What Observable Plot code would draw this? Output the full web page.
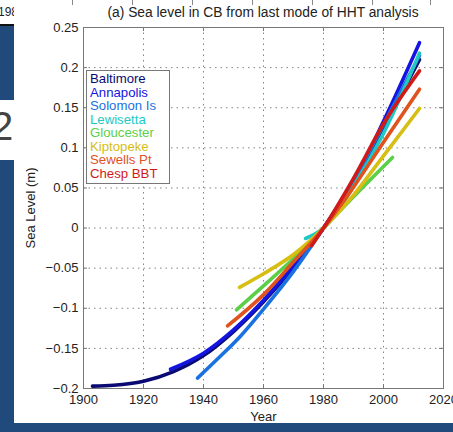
<!DOCTYPE html>
<html>
<head>
<meta charset="utf-8">
<script src="https://cdn.jsdelivr.net/npm/d3@7"></script>
<script src="https://cdn.jsdelivr.net/npm/@observablehq/plot@0.6"></script>
<style>
  html, body { margin: 0; padding: 0; width: 453px; height: 432px; overflow: hidden; background: #1f4a7b; }
  #page { position: relative; width: 453px; height: 432px; font-family: "Liberation Sans", Arial, sans-serif; }
  #panel { position: absolute; left: 14px; top: 0; width: 439px; height: 423px; background: #fff; }
  #chart { position: absolute; left: 0; top: 0; }
  #title { position: absolute; left: 63px; width: 400px; top: 5px; text-align: center; font-size: 13.8px; color: #222; white-space: nowrap; }
  #legend { position: absolute; left: 86px; top: 70px; width: 84px; height: 114px; border: 1px solid #777; background: #fff; padding: 1px 0 0 3px; box-sizing: border-box; }
  #legend div { font-size: 13.2px; line-height: 13.5px; height: 13.5px; white-space: nowrap; }
  #tab { position: absolute; left: 0; top: 0; width: 14px; height: 24px; background: #fff; border-bottom: 2px solid #111; overflow: hidden; }
  #tab span { position: absolute; left: -2px; top: 5px; font-size: 12px; color: #222; }
  #slide { position: absolute; left: 0; top: 100px; width: 14px; height: 60px; background: #fff; overflow: hidden; }
  #slide span { position: absolute; left: -9px; top: 4px; font-size: 40px; color: #444; }
  .topTick { position: absolute; top: 0; width: 1px; height: 5px; background: #888; }
</style>
</head>
<body>
<div id="page">
  <div id="panel"></div>
  <div id="tab"><span>198</span></div>
  <div id="slide"><span>2</span></div>
  <div id="chart"></div>
  <div id="title">(a) Sea level in CB from last mode of HHT analysis</div>
  <div id="legend"></div>
</div>
<script>
// Stations, in plotting order, and their line colours
const stations = ["Baltimore", "Annapolis", "Solomon Is", "Lewisetta", "Gloucester", "Kiptopeke", "Sewells Pt", "Chesp BBT"];
const colors = ["#0a0a72", "#1414e0", "#1a72e0", "#22c8c4", "#5ccf48", "#d6be12", "#e0521e", "#d01a1a"];

// Last HHT mode (trend) of sea level at each station: [year, metres]
const baltimore  = [[1903,-0.197],[1910,-0.196],[1920,-0.191],[1930,-0.179],[1940,-0.159],[1950,-0.129],[1960,-0.092],[1970,-0.049],[1980,0.0],[1990,0.055],[2000,0.125],[2012,0.210]];
const annapolis  = [[1929,-0.176],[1940,-0.156],[1950,-0.127],[1960,-0.090],[1970,-0.047],[1980,0.0],[1990,0.058],[2000,0.133],[2012,0.231]];
const solomonIs  = [[1938,-0.187],[1945,-0.162],[1952,-0.136],[1960,-0.101],[1970,-0.054],[1980,0.0],[1990,0.058],[2000,0.129],[2012,0.215]];
const lewisetta  = [[1974,-0.013],[1980,0.0],[1990,0.052],[2000,0.118],[2012,0.218]];
const gloucester = [[1951,-0.102],[1960,-0.072],[1970,-0.038],[1980,0.0],[1990,0.039],[2003,0.088]];
const kiptopeke  = [[1952,-0.074],[1960,-0.057],[1970,-0.033],[1980,0.0],[1990,0.041],[2000,0.090],[2012,0.149]];
const sewellsPt  = [[1948,-0.122],[1960,-0.083],[1970,-0.042],[1980,0.0],[1990,0.051],[2000,0.107],[2012,0.173]];
const chespBBT   = [[1976,-0.022],[1980,0.0],[1990,0.062],[2000,0.130],[2012,0.196]];

const xTicks = [1900, 1920, 1940, 1960, 1980, 2000, 2020];
const yTicks = [-0.2, -0.15, -0.1, -0.05, 0, 0.05, 0.1, 0.15, 0.2, 0.25];

const series = [baltimore, annapolis, solomonIs, lewisetta, gloucester, kiptopeke, sewellsPt, chespBBT];
const rows = series.flatMap((pts, i) => pts.map(([year, value]) => ({station: stations[i], year, value})));

const W = 453, H = 423, mt = 27, mb = 35, ml = 83, mr = 10;
const innerW = W - ml - mr, innerH = H - mt - mb;
const fmtY = d => String(+d.toFixed(2)).replace("-", "\u2212");
const gridStyle = {stroke: "#777", strokeOpacity: 0.9, strokeDasharray: "1.5,4"};
const tickStyle = {stroke: "#777", strokeWidth: 1};

const chart = Plot.plot({
  width: W, height: H,
  marginTop: mt, marginBottom: mb, marginLeft: ml, marginRight: mr,
  style: {background: "transparent", fontFamily: "'Liberation Sans', Arial, sans-serif", fontSize: "13px", color: "#222", overflow: "visible"},
  x: {domain: [1900, 2020]},
  y: {domain: [-0.2, 0.25]},
  color: {domain: stations, range: colors},
  marks: [
    Plot.gridX(xTicks, gridStyle),
    Plot.gridY(yTicks, gridStyle),
    // inward ticks on all four sides of the box
    Plot.tickX(xTicks, {x: d => d, insetTop: innerH - 4, ...tickStyle}),
    Plot.tickX(xTicks, {x: d => d, insetBottom: innerH - 4, ...tickStyle}),
    Plot.tickY(yTicks, {y: d => d, insetRight: innerW - 4, ...tickStyle}),
    Plot.tickY(yTicks, {y: d => d, insetLeft: innerW - 4, ...tickStyle}),
    Plot.frame({stroke: "#777"}),
    Plot.line(rows, {x: "year", y: "value", z: "station", stroke: "station", strokeWidth: 3.6, curve: "monotone-x"}),
    Plot.axisX(xTicks, {tickSize: 0, tickPadding: 6, tickFormat: d => String(d), label: "Year", labelArrow: "none", labelAnchor: "center", labelOffset: 32, fontSize: 13}),
    Plot.axisY(yTicks, {tickSize: 0, tickPadding: 5, tickFormat: fmtY, label: "Sea Level (m)", labelArrow: "none", labelAnchor: "center", labelOffset: 58, fontSize: 13})
  ]
});
document.getElementById("chart").appendChild(chart);

// legend: station names in their line colours
const legend = document.getElementById("legend");
stations.forEach((name, i) => {
  const row = document.createElement("div");
  row.textContent = name;
  row.style.color = colors[i];
  legend.appendChild(row);
});

// axis ticks of the neighbouring figure along the top edge
const page = document.getElementById("page");
[72, 132, 192, 252, 312, 372, 430].forEach(x => {
  const t = document.createElement("div");
  t.className = "topTick";
  t.style.left = x + "px";
  page.appendChild(t);
});
</script>
</body>
</html>
